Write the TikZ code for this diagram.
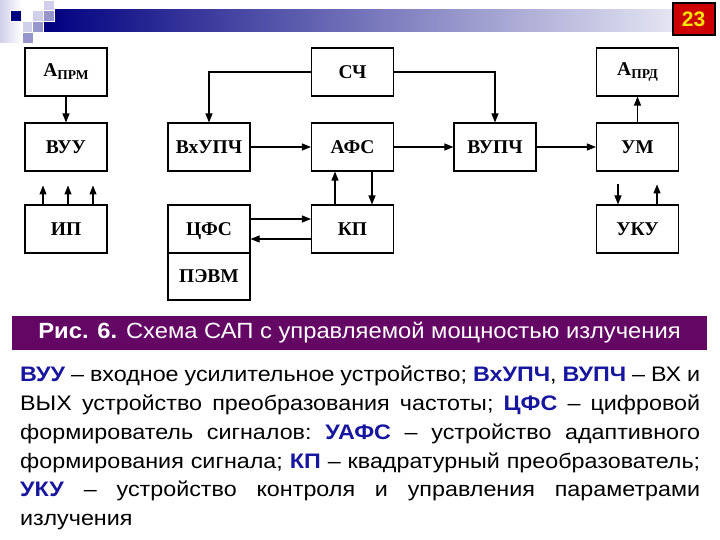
\documentclass[tikz,border=0pt]{standalone}
\usepackage{fontspec}
\setmainfont{Liberation Serif}
\newfontfamily\arialFont{Liberation Sans}
\newfontfamily\wideArial[FakeStretch = 1.08]{Liberation Sans}
\newfontfamily\legendArial[FakeStretch = 1.11]{Liberation Sans}
\usetikzlibrary{arrows.meta}
\definecolor{barNavy}{RGB}{0,0,128}
\definecolor{barPale}{RGB}{228,228,242}
\definecolor{squarePale}{RGB}{208,208,234}
\definecolor{squareMid}{RGB}{150,150,205}
\definecolor{captionPurple}{RGB}{100,6,100}
\definecolor{termBlue}{RGB}{22,22,158}
\definecolor{pageRed}{RGB}{204,0,0}
\definecolor{pageYellow}{RGB}{255,228,0}
\tikzstyle{slide} = [x = 1pt, y = -1pt]
\tikzstyle{blockStyle} = [draw, line width = 1.1pt, minimum width = 82pt, minimum height = 48pt, inner sep = 0pt, font = \fontsize{19.5}{21}\selectfont\bfseries]
\tikzstyle{signalLine} = [line width = 1.1pt, -{Triangle[length = 9pt, width = 7pt]}]
\tikzstyle{squareStyle} = [draw = white, line width = 0.5pt]
\tikzstyle{bodyText} = [anchor = north west, inner sep = 0pt, text width = 680pt, align = justify, font = \legendArial\fontsize{21}{28.8}\selectfont\frenchspacing]
\newcommand{\term}[1]{\textbf{\textcolor{termBlue}{#1}}}
\newcommand{\subLabel}[2]{#1{\fontsize{13.5}{13.5}\selectfont\raisebox{-3pt}{#2}}}
\newcommand{\decoSquare}[3]{\filldraw [squareStyle, fill = #3] (#1, #2) rectangle + (11, 11);}

\begin{document}
\begin{tikzpicture}[slide]
  \useasboundingbox (0, 0) rectangle (720, 540);
  % title bar
  \shade [left color = squarePale, right color = white] (0, 0) rectangle (22, 43);
  \shade [left color = barNavy, right color = barPale] (43, 10) rectangle (672, 32);
  \decoSquare{10}{10}{barNavy}
  \decoSquare{32}{10}{squarePale}
  \decoSquare{43}{0}{squarePale}
  \decoSquare{43}{10}{squareMid}
  \decoSquare{22}{21}{squarePale}
  \decoSquare{32}{21}{squareMid}
  \decoSquare{22}{32}{squareMid}
  \node (pageNum) [draw = black, line width = 2pt, fill = pageRed, minimum width = 42pt, minimum height = 32pt, inner sep = 0pt, text = pageYellow, font = \arialFont\fontsize{21}{21}\selectfont\bfseries] at (693.5, 19.5) {23};

  % blocks
  \node (aprm) [blockStyle] at (66, 72) {\subLabel{А}{ПРМ}};
  \node (vuu) [blockStyle] at (66, 147) {ВУУ};
  \node (ip) [blockStyle] at (66, 229) {ИП};
  \node (sch) [blockStyle] at (352.5, 72) {СЧ};
  \node (vxupch) [blockStyle] at (209, 147) {ВхУПЧ};
  \node (afs) [blockStyle] at (352.5, 147) {АФС};
  \node (kp) [blockStyle] at (352.5, 229) {КП};
  \node (cfs) [blockStyle, text depth = 0pt] at (209, 229) {ЦФС};
  \node (pevm) [blockStyle, minimum height = 47pt] at (209, 276.5) {ПЭВМ};
  \node (vupch) [blockStyle] at (495, 147) {ВУПЧ};
  \node (aprd) [blockStyle] at (637.5, 72) {\subLabel{А}{ПРД}};
  \node (um) [blockStyle] at (637.5, 147) {УМ};
  \node (uku) [blockStyle] at (637.5, 229) {УКУ};

  % connections
  \draw [signalLine] (aprm) -- (vuu);
  \foreach \dx [count = \i] in {-23, 2, 27} {
    \coordinate (ipEnd\i) at ([xshift = \dx pt, yshift = 19pt] ip.north);
    \draw [signalLine] ([xshift = \dx pt] ip.north) -- (ipEnd\i);
  }
  \draw [signalLine] (sch.west) -| (vxupch.north);
  \draw [signalLine] (sch.east) -| (vupch.north);
  \draw [signalLine] (vxupch) -- (afs);
  \draw [signalLine] (afs) -- (vupch);
  \draw [signalLine] (vupch) -- (um);
  \draw [signalLine] (um) -- (aprd);
  \draw [signalLine] ([xshift = 19.5pt] afs.south) -- ([xshift = 19.5pt] kp.north);
  \draw [signalLine] ([xshift = -17.5pt] kp.north) -- ([xshift = -17.5pt] afs.south);
  \draw [signalLine] ([yshift = 10pt] cfs.east) -- ([yshift = 10pt] kp.west);
  \draw [signalLine] ([yshift = -10pt] kp.west) -- ([yshift = -10pt] cfs.east);
  \coordinate (ukuIn) at ([xshift = -19.5pt, yshift = 20pt] uku.north);
  \coordinate (ukuOut) at ([xshift = 19.5pt, yshift = 20pt] uku.north);
  \draw [signalLine] (ukuIn) -- ([xshift = -19.5pt] uku.north);
  \draw [signalLine] ([xshift = 19.5pt] uku.north) -- (ukuOut);

  % caption and legend
  \node (caption) [fill = captionPurple, minimum width = 695pt, minimum height = 34pt, inner sep = 0pt, text = white, font = \wideArial\fontsize{22}{22}\selectfont] at (359.5, 333) {\textbf{Рис. 6.} Схема САП с управляемой мощностью излучения};
  \node (legend) [bodyText] at (20, 366) {\term{ВУУ} – входное усилительное устройство; \term{ВхУПЧ}, \term{ВУПЧ} – ВХ и\linebreak
    ВЫХ устройство преобразования частоты; \term{ЦФС} – цифровой\linebreak
    формирователь сигналов: \term{УАФС} – устройство адаптивного\linebreak
    формирования сигнала; \term{КП} – квадратурный преобразователь;\linebreak
    \term{УКУ} – устройство контроля и управления параметрами\linebreak
    излучения};
\end{tikzpicture}
\end{document}
